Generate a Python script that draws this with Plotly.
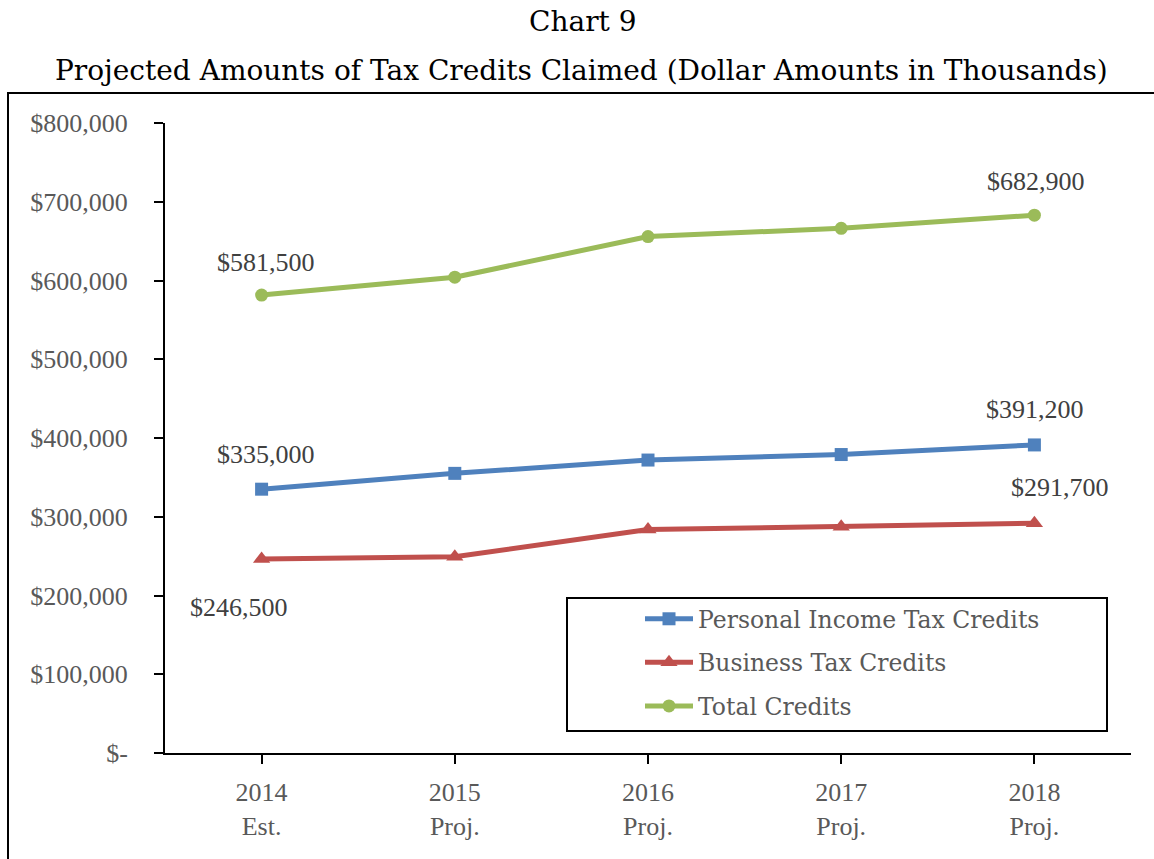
import plotly.graph_objects as go

# Chart data (dollar amounts in thousands)
years = ["2014<br>Est.", "2015<br>Proj.", "2016<br>Proj.", "2017<br>Proj.", "2018<br>Proj."]
personal = [335000, 355100, 372000, 379000, 391200]
business = [246500, 249100, 283800, 287300, 291700]
total = [p + b for p, b in zip(personal, business)]

y_ticks = [0, 100000, 200000, 300000, 400000, 500000, 600000, 700000, 800000]
y_tick_text = ["$-"] + ["${:,}".format(v) for v in y_ticks[1:]]

W, H = 1154, 859
L, R, T, B = 165, 23, 123, 106
pw, ph = W - L - R, H - T - B

NUM_FONT = "Liberation Serif"
TXT_FONT = "DejaVu Serif"
BLUE, RED, GREEN = "#4F81BD", "#C0504D", "#9BBB59"

fig = go.Figure()
series = [
    ("Personal Income Tax Credits", personal, BLUE, "square", 13),
    ("Business Tax Credits", business, RED, "triangle-up", 15),
    ("Total Credits", total, GREEN, "circle", 13),
]
for name, vals, col, sym, size in series:
    fig.add_trace(go.Scatter(
        x=list(range(len(years))), y=vals, name=name, mode="lines+markers",
        line=dict(color=col, width=5),
        marker=dict(symbol=sym, size=size, color=col),
        legendgroup=name,
    ))

def label(i, vals, xs, ys):
    fig.add_annotation(
        x=i, y=vals[i], xref="x", yref="y", text="${:,}".format(vals[i]),
        showarrow=False, xshift=xs, yshift=ys,
        font=dict(family=NUM_FONT, size=26, color="#404040"),
    )

label(0, total, 4, 33)
label(4, total, 2, 34)
label(0, personal, 4, 35)
label(4, personal, 1, 35)
label(4, business, 26, 36)
label(0, business, -23, -49)

def px_x(x):
    return (x - L) / pw

def px_y(y):
    return (H - B - y) / ph

# Titles
fig.add_annotation(x=px_x(583), y=px_y(22), xref="paper", yref="paper",
                   text="Chart 9", showarrow=False, yanchor="middle",
                   font=dict(family=TXT_FONT, size=28, color="black"))
fig.add_annotation(x=px_x(581), y=px_y(70), xref="paper", yref="paper",
                   text="Projected Amounts of Tax Credits Claimed (Dollar Amounts in Thousands)",
                   showarrow=False, yanchor="middle",
                   font=dict(family=TXT_FONT, size=28, color="black"))

# Outer chart border and legend frame
fig.add_shape(type="rect", xref="paper", yref="paper",
              x0=px_x(8), x1=px_x(1170), y0=px_y(880), y1=px_y(93),
              line=dict(color="black", width=2))
fig.add_shape(type="rect", xref="paper", yref="paper",
              x0=px_x(567), x1=px_x(1107), y0=px_y(731), y1=px_y(598),
              line=dict(color="black", width=2))

fig.update_layout(
    width=W, height=H,
    margin=dict(l=L, r=R, t=T, b=B),
    paper_bgcolor="white", plot_bgcolor="white",
    font=dict(family=NUM_FONT),
    showlegend=True,
    legend=dict(
        x=px_x(640), y=px_y(597), xanchor="left", yanchor="top",
        bgcolor="rgba(0,0,0,0)", borderwidth=0,
        font=dict(family=TXT_FONT, size=23.5, color="#595959"),
        tracegroupgap=10, itemwidth=48,
    ),
    xaxis=dict(
        range=[-0.5, 4.5], tickmode="array", tickvals=list(range(5)), ticktext=years,
        showline=True, linecolor="black", linewidth=2, showgrid=False, zeroline=False,
        ticks="outside", ticklen=9, tickwidth=2, tickcolor="black", tickson="boundaries",
        ticklabelstandoff=6,
        tickfont=dict(family=NUM_FONT, size=26, color="#595959"),
    ),
    yaxis=dict(
        range=[0, 800000], tickmode="array", tickvals=y_ticks, ticktext=y_tick_text,
        showline=True, linecolor="black", linewidth=2, showgrid=False, zeroline=False,
        ticks="outside", ticklen=9, tickwidth=2, tickcolor="black",
        ticklabelstandoff=21,
        tickfont=dict(family=NUM_FONT, size=26, color="#595959"),
    ),
)

fig.write_html("out.html")
